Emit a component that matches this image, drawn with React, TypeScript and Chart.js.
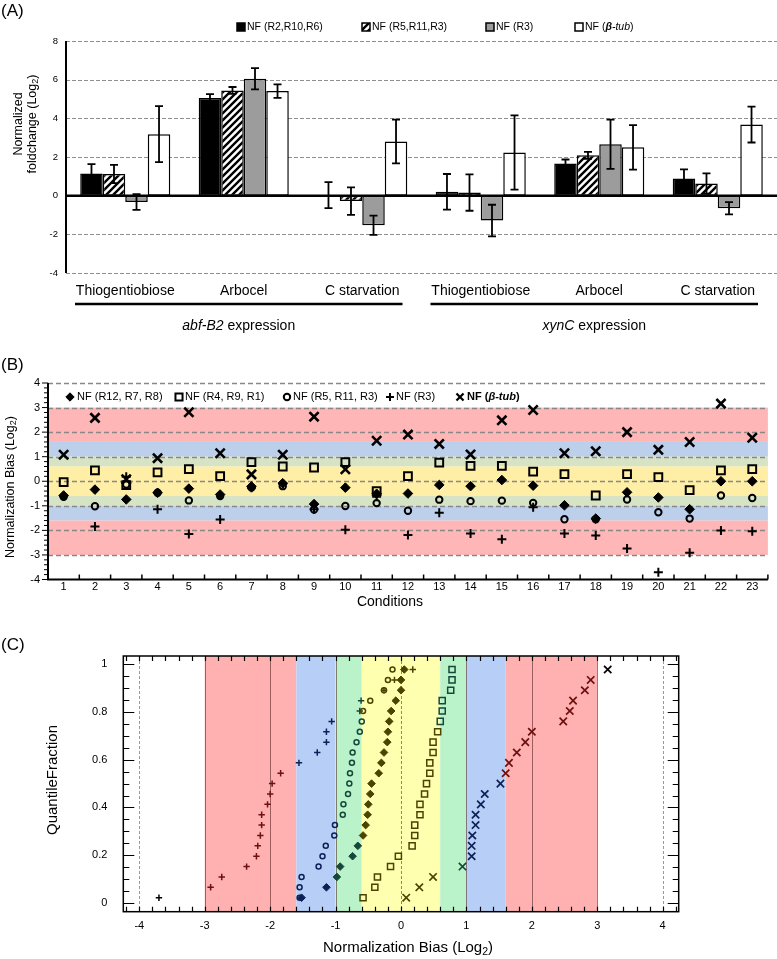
import React, { useEffect, useRef } from 'react';
import { Chart, registerables } from 'chart.js';

Chart.register(...registerables);

const FONT = '"Liberation Sans", Arial, Helvetica, sans-serif';
Chart.defaults.font.family = FONT;
Chart.defaults.color = '#000';

// ---------------- Panel A data ----------------
const categoriesA = ['Thiogentiobiose', 'Arbocel', 'C starvation', 'Thiogentiobiose', 'Arbocel', 'C starvation'];
const geneGroupsA = ['abf-B2', 'xynC'];
const seriesLabelsA = ['NF (R2,R10,R6)', 'NF (R5,R11,R3)', 'NF (R3)', 'NF (β-tub)'];
const foldR2R10R6 = [1.15, 5.05, 0.03, 0.2, 1.67, 0.89];
const errR2R10R6 = [0.48, 0.2, 0.67, 0.92, 0.2, 0.47];
const foldR5R11R3 = [1.12, 5.44, -0.28, 0.16, 2.09, 0.63];
const errR5R11R3 = [0.47, 0.18, 0.71, 0.94, 0.18, 0.52];
const foldR3 = [-0.33, 6.05, -1.53, -1.29, 2.66, -0.65];
const errR3 = [0.41, 0.55, 0.5, 0.82, 1.27, 0.32];
const foldBtub = [3.18, 5.41, 2.8, 2.23, 2.5, 3.68];
const errBtub = [1.45, 0.35, 1.13, 1.92, 1.15, 0.93];
const yTicksA = [-4, -2, 0, 2, 4, 6, 8];

// ---------------- Panel B data ----------------
const conditionsB = [1, 2, 3, 4, 5, 6, 7, 8, 9, 10, 11, 12, 13, 14, 15, 16, 17, 18, 19, 20, 21, 22, 23];
const biasR12R7R8 = [-0.58, -0.34, -0.74, -0.47, -0.3, -0.54, -0.21, -0.08, -0.93, -0.26, -0.51, -0.5, -0.15, -0.2, 0.05, -0.18, -0.98, -1.52, -0.45, -0.66, -1.14, 0.0, 0.0];
const biasR4R9R1 = [-0.04, 0.44, -0.16, 0.36, 0.49, 0.21, 0.78, 0.6, 0.56, 0.78, -0.4, 0.21, 0.76, 0.63, 0.63, 0.39, 0.29, -0.58, 0.29, 0.17, -0.36, 0.44, 0.49];
const biasR5R11R3 = [-0.63, -1.02, -0.13, -0.47, -0.78, -0.6, -0.26, -0.2, -1.15, -1.01, -0.89, -1.2, -0.75, -0.81, -0.79, -0.88, -1.55, -1.55, -0.74, -1.26, -1.52, -0.58, -0.68];
const biasR3 = [-0.61, -1.84, 0.18, -1.14, -2.15, -1.56, -0.26, -0.1, -1.14, -1.97, -0.63, -2.19, -1.28, -2.13, -2.36, -1.06, -2.13, -2.21, -2.74, -3.7, -2.91, -2.0, -2.04];
const biasBtub = [1.08, 2.58, 0.08, 0.94, 2.81, 1.14, 0.28, 1.08, 2.63, 0.49, 1.65, 1.9, 1.52, 1.09, 2.48, 2.9, 1.14, 1.22, 2.0, 1.28, 1.6, 3.16, 1.77];
const yTicksB = [-4, -3, -2, -1, 0, 1, 2, 3, 4];

// ---------------- Panel C ticks ----------------
const xTicksC = [-4, -3, -2, -1, 0, 1, 2, 3, 4];
const yTicksC = [0, 0.2, 0.4, 0.6, 0.8, 1];

// ---------------- helpers ----------------
type Part = [string, string, number?];

function drawRich(ctx: CanvasRenderingContext2D, parts: Part[], x: number, y: number, align = 'left', color = '#000') {
  ctx.save();
  ctx.fillStyle = color;
  ctx.textBaseline = 'middle';
  ctx.textAlign = 'left';
  let total = 0;
  const widths = parts.map(([t, f]) => {
    ctx.font = f;
    const w = ctx.measureText(t).width;
    total += w;
    return w;
  });
  let cx = align === 'center' ? x - total / 2 : align === 'right' ? x - total : x;
  parts.forEach(([t, f, dy], i) => {
    ctx.font = f;
    ctx.fillText(t, cx, y + (dy || 0));
    cx += widths[i];
  });
  ctx.restore();
}

function drawRotated(ctx: CanvasRenderingContext2D, parts: Part[], x: number, y: number) {
  ctx.save();
  ctx.translate(x, y);
  ctx.rotate(-Math.PI / 2);
  drawRich(ctx, parts, 0, 0, 'center');
  ctx.restore();
}

function sym(ctx: CanvasRenderingContext2D, kind: string, x: number, y: number, r: number, color: string, lw: number) {
  ctx.save();
  ctx.strokeStyle = color;
  ctx.fillStyle = color;
  ctx.lineWidth = lw;
  ctx.setLineDash([]);
  ctx.beginPath();
  if (kind === 'rectRot') {
    ctx.moveTo(x, y - r); ctx.lineTo(x + r, y); ctx.lineTo(x, y + r); ctx.lineTo(x - r, y); ctx.closePath();
    ctx.fill(); ctx.lineWidth = 1; ctx.stroke();
  } else if (kind === 'rect') {
    const s = r * Math.SQRT1_2;
    ctx.rect(x - s, y - s, 2 * s, 2 * s); ctx.stroke();
  } else if (kind === 'circle') {
    ctx.arc(x, y, r, 0, Math.PI * 2); ctx.stroke();
  } else if (kind === 'cross') {
    ctx.moveTo(x - r, y); ctx.lineTo(x + r, y); ctx.moveTo(x, y - r); ctx.lineTo(x, y + r); ctx.stroke();
  } else if (kind === 'crossRot') {
    const s = r * Math.SQRT1_2;
    ctx.moveTo(x - s, y - s); ctx.lineTo(x + s, y + s); ctx.moveTo(x - s, y + s); ctx.lineTo(x + s, y - s); ctx.stroke();
  }
  ctx.restore();
}

const f = (size: number, style = '') => `${style} ${size}px ${FONT}`.trim();

function makeHatch(ctx: CanvasRenderingContext2D) {
  const c = document.createElement('canvas');
  c.width = 7; c.height = 7;
  const g = c.getContext('2d')!;
  g.fillStyle = '#fff';
  g.fillRect(0, 0, 7, 7);
  g.strokeStyle = '#000';
  g.lineWidth = 2.4;
  g.beginPath();
  g.moveTo(-1, 8); g.lineTo(8, -1);
  g.moveTo(-4, 4); g.lineTo(4, -4);
  g.moveTo(3, 11); g.lineTo(11, 3);
  g.stroke();
  return ctx.createPattern(c, 'repeat')!;
}

// ---------------- Panel A ----------------
function buildA(canvas: HTMLCanvasElement) {
  const ctx = canvas.getContext('2d')!;
  const hatch = makeHatch(ctx);
  const values = [foldR2R10R6, foldR5R11R3, foldR3, foldBtub];
  const errors = [errR2R10R6, errR5R11R3, errR3, errBtub];
  const fills: any[] = ['#000', hatch, '#9c9c9c', '#fff'];

  const decor = {
    id: 'decorA',
    beforeDatasetsDraw(chart: any) {
      const { ctx, chartArea: ca, scales: { y } } = chart;
      ctx.save();
      ctx.strokeStyle = '#8f8f8f';
      ctx.lineWidth = 1.2;
      ctx.setLineDash([4, 2]);
      yTicksA.forEach((v) => {
        if (v === 0) return;
        const py = Math.round(y.getPixelForValue(v)) + 0.5;
        ctx.beginPath(); ctx.moveTo(ca.left, py); ctx.lineTo(ca.right, py); ctx.stroke();
      });
      ctx.restore();
    },
    afterDatasetsDraw(chart: any) {
      const { ctx, chartArea: ca, scales: { y } } = chart;
      ctx.save();
      ctx.strokeStyle = '#000';
      ctx.setLineDash([]);
      ctx.lineWidth = 2.5;
      const y0 = y.getPixelForValue(0);
      ctx.beginPath(); ctx.moveTo(ca.left, y0); ctx.lineTo(ca.right, y0); ctx.stroke();
      ctx.lineWidth = 2;
      ctx.beginPath(); ctx.moveTo(ca.left, ca.top); ctx.lineTo(ca.left, ca.bottom); ctx.stroke();
      ctx.lineWidth = 1.8;
      chart.data.datasets.forEach((ds: any, i: number) => {
        const meta = chart.getDatasetMeta(i);
        meta.data.forEach((el: any, j: number) => {
          const v = ds.data[j];
          const e = errors[i][j];
          const t = y.getPixelForValue(v + e);
          const b = y.getPixelForValue(v - e);
          const x = el.x;
          const cap = 4;
          ctx.beginPath();
          ctx.moveTo(x, t); ctx.lineTo(x, b);
          ctx.moveTo(x - cap, t); ctx.lineTo(x + cap, t);
          ctx.moveTo(x - cap, b); ctx.lineTo(x + cap, b);
          ctx.stroke();
        });
      });
      ctx.restore();
    },
    afterDraw(chart: any) {
      const { ctx, chartArea: ca, scales: { x } } = chart;
      drawRich(ctx, [['(A)', f(17)]], 1, 11);
      const legX = [237, 362, 486, 575];
      const ly = 27;
      legX.forEach((lx, i) => {
        ctx.save();
        ctx.fillStyle = fills[i];
        ctx.fillRect(lx, ly - 4, 8, 8);
        ctx.strokeStyle = '#000';
        ctx.lineWidth = 1.5;
        ctx.strokeRect(lx, ly - 4, 8, 8);
        ctx.restore();
        if (i === 3) {
          drawRich(ctx, [['NF (', f(10.5)], ['β', f(10.5, 'italic bold')], ['-tub', f(10.5, 'italic')], [')', f(10.5)]], lx + 10, ly);
        } else {
          drawRich(ctx, [[seriesLabelsA[i], f(10.5)]], lx + 10, ly);
        }
      });
      const w = x.getPixelForValue(1) - x.getPixelForValue(0);
      geneGroupsA.forEach((gname, g) => {
        const left = x.getPixelForValue(3 * g) - w / 2 + 9;
        const right = x.getPixelForValue(3 * g + 2) + w / 2 - 19;
        ctx.save();
        ctx.strokeStyle = '#000';
        ctx.lineWidth = 2.5;
        ctx.beginPath(); ctx.moveTo(left, ca.bottom + 31); ctx.lineTo(right, ca.bottom + 31); ctx.stroke();
        ctx.restore();
        drawRich(ctx, [[gname, f(14, 'italic')], [' expression', f(14)]], (left + right) / 2, ca.bottom + 53, 'center');
      });
      drawRotated(ctx, [['Normalized', f(12.5)]], 19, 124);
      drawRotated(ctx, [['foldchange (Log', f(12.5)], ['2', f(9), 3], [')', f(12.5)]], 33, 124);
    },
  };

  return new Chart(canvas, {
    type: 'bar',
    data: {
      labels: categoriesA,
      datasets: values.map((d, i) => ({
        label: seriesLabelsA[i],
        data: d,
        backgroundColor: fills[i],
        borderColor: '#000',
        borderWidth: 1.5,
        borderSkipped: false,
        categoryPercentage: 0.76,
        barPercentage: 1,
      })),
    },
    options: {
      responsive: false,
      animation: false,
      events: [],
      layout: { padding: { top: 41, left: 0, right: 0, bottom: 0 } },
      plugins: { legend: { display: false }, tooltip: { enabled: false } },
      scales: {
        x: {
          grid: { display: false, drawTicks: false },
          border: { display: false },
          ticks: { font: { size: 14 }, color: '#000', padding: 10, maxRotation: 0, autoSkip: false },
          afterFit: (s: any) => { s.height = 340 - 273; },
        },
        y: {
          min: -4,
          max: 8,
          afterBuildTicks: (s: any) => { s.ticks = yTicksA.map((v) => ({ value: v })); },
          grid: { display: false, drawTicks: false },
          border: { display: false },
          ticks: { font: { size: 9.5 }, color: '#000', padding: 8 },
          afterFit: (s: any) => { s.width = 66; },
        },
      },
    },
    plugins: [decor],
  } as any);
}

// ---------------- Panel B & C series styles ----------------
const seriesBC = [
  { label: 'NF (R5, R11, R3)', values: biasR5R11R3, style: 'circle', rB: 3.2, bwB: 2, rC: 2.5, bwC: 1.5, fill: false },
  { label: 'NF (R4, R9, R1)', values: biasR4R9R1, style: 'rect', rB: 5.5, bwB: 2, rC: 4.3, bwC: 1.5, fill: false },
  { label: 'NF (R12, R7, R8)', values: biasR12R7R8, style: 'rectRot', rB: 4.8, bwB: 1, rC: 3.8, bwC: 1, fill: true },
  { label: 'NF (R3)', values: biasR3, style: 'cross', rB: 4.5, bwB: 2, rC: 3.2, bwC: 1.5, fill: false },
  { label: 'NF (β-tub)', values: biasBtub, style: 'crossRot', rB: 6.5, bwB: 2.6, rC: 5.2, bwC: 1.7, fill: false },
];

// ---------------- Panel B ----------------
function buildB(canvas: HTMLCanvasElement) {
  const bands = [
    { from: 1.6, to: 3, color: '#ffb6b6' },
    { from: 1.0, to: 1.6, color: '#bccfeb' },
    { from: 0.6, to: 1.0, color: '#d6e3c4' },
    { from: -0.6, to: 0.6, color: '#ffeea5' },
    { from: -1.0, to: -0.6, color: '#d6e3c4' },
    { from: -1.6, to: -1.0, color: '#bccfeb' },
    { from: -3, to: -1.6, color: '#ffb6b6' },
  ];
  const decor = {
    id: 'decorB',
    beforeDatasetsDraw(chart: any) {
      const { ctx, chartArea: ca, scales: { x, y } } = chart;
      ctx.save();
      bands.forEach((b) => {
        const t = y.getPixelForValue(b.to);
        const bo = y.getPixelForValue(b.from);
        ctx.fillStyle = b.color;
        ctx.fillRect(ca.left, t, ca.right - ca.left, bo - t);
      });
      ctx.strokeStyle = '#888';
      ctx.lineWidth = 1.5;
      ctx.setLineDash([5, 3]);
      yTicksB.forEach((v) => {
        if (v === -4) return;
        const py = Math.round(y.getPixelForValue(v)) + 0.5;
        ctx.beginPath(); ctx.moveTo(ca.left, py); ctx.lineTo(ca.right, py); ctx.stroke();
      });
      ctx.setLineDash([]);
      ctx.strokeStyle = '#000';
      ctx.lineWidth = 2;
      ctx.beginPath();
      ctx.moveTo(ca.left, ca.top); ctx.lineTo(ca.left, ca.bottom); ctx.lineTo(ca.right, ca.bottom);
      ctx.stroke();
      ctx.lineWidth = 1;
      for (let k = -20; k <= 20; k++) {
        const py = y.getPixelForValue(k * 0.2);
        const len = k % 5 === 0 ? 6 : 4;
        ctx.beginPath(); ctx.moveTo(ca.left - len, py); ctx.lineTo(ca.left, py); ctx.stroke();
      }
      ctx.lineWidth = 1.5;
      for (let k = 0; k <= conditionsB.length; k++) {
        const px = x.getPixelForValue(k + 0.5);
        ctx.beginPath(); ctx.moveTo(px, ca.bottom); ctx.lineTo(px, ca.bottom - 5); ctx.stroke();
      }
      ctx.restore();
    },
    afterDraw(chart: any) {
      const { ctx } = chart;
      drawRich(ctx, [['(B)', f(17)]], 1, 25);
      const ly = 57;
      const order = [2, 1, 0, 3, 4];
      const pos = [[70, 77], [179, 185], [287, 293], [390, 396], [460, 467]];
      order.forEach((si, k) => {
        const s = seriesBC[si];
        const r = s.style === 'crossRot' ? 5 : s.style === 'rect' ? 5 : s.style === 'rectRot' ? 4.2 : s.style === 'cross' ? 4 : s.rB;
        sym(ctx, s.style, pos[k][0], ly, r, '#000', s.style === 'crossRot' ? 2.2 : s.bwB);
        if (si === 4) {
          drawRich(ctx, [['NF (', f(11, 'bold')], ['β-tub', f(11, 'italic bold')], [')', f(11, 'bold')]], pos[k][1], ly);
        } else {
          drawRich(ctx, [[s.label, f(11)]], pos[k][1], ly);
        }
      });
      drawRotated(ctx, [['Normalization Bias (Log', f(12.5)], ['2', f(9), 3], [')', f(12.5)]], 11, 147);
      drawRich(ctx, [['Conditions', f(14)]], 390, 262, 'center');
    },
  };

  return new Chart(canvas, {
    type: 'scatter',
    data: {
      datasets: seriesBC.map((s) => ({
        label: s.label,
        data: conditionsB.map((c, i) => ({ x: c, y: s.values[i] })),
        pointStyle: s.style,
        pointRadius: s.rB,
        pointBorderWidth: s.bwB,
        pointBorderColor: '#000',
        pointBackgroundColor: s.fill ? '#000' : 'rgba(0,0,0,0)',
      })),
    },
    options: {
      responsive: false,
      animation: false,
      events: [],
      layout: { padding: { top: 43, left: 0, right: 0, bottom: 0 } },
      plugins: { legend: { display: false }, tooltip: { enabled: false } },
      scales: {
        x: {
          type: 'linear',
          min: 0.5,
          max: 23.5,
          afterBuildTicks: (s: any) => { s.ticks = conditionsB.map((v) => ({ value: v })); },
          grid: { display: false, drawTicks: false },
          border: { display: false },
          ticks: { font: { size: 11 }, color: '#000', padding: 1, maxRotation: 0, autoSkip: false },
          afterFit: (s: any) => { s.height = 290 - 239.5; },
        },
        y: {
          min: -4,
          max: 4,
          afterBuildTicks: (s: any) => { s.ticks = yTicksB.map((v) => ({ value: v })); },
          grid: { display: false, drawTicks: false },
          border: { display: false },
          ticks: { font: { size: 11 }, color: '#000', padding: 8 },
          afterFit: (s: any) => { s.width = 48; },
        },
      },
    },
    plugins: [decor],
  } as any);
}

// ---------------- Panel C ----------------
function colorC(v: number) {
  const a = Math.abs(v);
  if (a >= 3) return '#000000';
  if (a >= 1.6) return '#6e1010';
  if (a >= 1.0) return '#0d2058';
  if (a >= 0.6) return '#15483a';
  return '#4b4300';
}

function buildC(canvas: HTMLCanvasElement) {
  const bands = [
    { from: -3, to: -1.6, color: '#ffb0b0' },
    { from: -1.6, to: -1.0, color: '#b7cff6' },
    { from: -1.0, to: -0.6, color: '#baf2c9' },
    { from: -0.6, to: 0.6, color: '#ffffb0' },
    { from: 0.6, to: 1.0, color: '#baf2c9' },
    { from: 1.0, to: 1.6, color: '#b7cff6' },
    { from: 1.6, to: 3, color: '#ffb0b0' },
  ];
  const decor = {
    id: 'decorC',
    beforeDatasetsDraw(chart: any) {
      const { ctx, chartArea: ca, scales: { x } } = chart;
      ctx.save();
      bands.forEach((b) => {
        const l = x.getPixelForValue(b.from);
        const r = x.getPixelForValue(b.to);
        ctx.fillStyle = b.color;
        ctx.fillRect(l, ca.top, r - l, ca.bottom - ca.top);
      });
      xTicksC.forEach((v) => {
        const px = Math.round(x.getPixelForValue(v)) + 0.5;
        ctx.strokeStyle = Math.abs(v) === 4 ? '#9a9a9a' : 'rgba(60,10,10,0.5)';
        ctx.setLineDash(Math.abs(v) === 4 || v === 0 ? [3, 2] : []);
        ctx.lineWidth = 1;
        ctx.beginPath(); ctx.moveTo(px, ca.top); ctx.lineTo(px, ca.bottom); ctx.stroke();
      });
      ctx.restore();
    },
    afterDatasetsDraw(chart: any) {
      const { ctx, chartArea: ca, scales: { x, y } } = chart;
      ctx.save();
      ctx.strokeStyle = '#000';
      ctx.setLineDash([]);
      ctx.lineWidth = 1.5;
      ctx.strokeRect(ca.left, ca.top, ca.right - ca.left, ca.bottom - ca.top);
      ctx.lineWidth = 1.2;
      for (let k = 0; k <= 20; k++) {
        const py = Math.round(y.getPixelForValue(k * 0.05)) + 0.5;
        const len = k % 4 === 0 ? 11 : 6;
        ctx.beginPath();
        ctx.moveTo(ca.left, py); ctx.lineTo(ca.left + len, py);
        ctx.moveTo(ca.right, py); ctx.lineTo(ca.right - len, py);
        ctx.stroke();
      }
      for (let k = -21; k <= 21; k++) {
        const px = Math.round(x.getPixelForValue(k * 0.2)) + 0.5;
        ctx.beginPath();
        ctx.moveTo(px, ca.top); ctx.lineTo(px, ca.top + 5);
        ctx.moveTo(px, ca.bottom); ctx.lineTo(px, ca.bottom - 5);
        ctx.stroke();
      }
      ctx.restore();
    },
    afterDraw(chart: any) {
      const { ctx } = chart;
      drawRich(ctx, [['(C)', f(17)]], 1, 15);
      drawRotated(ctx, [['QuantileFraction', f(15)]], 53, 150);
      drawRich(ctx, [['Normalization Bias (Log', f(15)], ['2', f(10.5), 4], [')', f(15)]], 408, 318, 'center');
    },
  };

  const quantiles = (vals: number[]) => {
    const sorted = [...vals].sort((a, b) => a - b);
    return sorted.map((v, i) => ({ x: v, y: (i + 0.5) / sorted.length }));
  };

  return new Chart(canvas, {
    type: 'scatter',
    data: {
      datasets: seriesBC.map((s) => ({
        label: s.label,
        data: quantiles(s.values),
        pointStyle: s.style,
        pointRadius: s.rC,
        pointBorderWidth: s.bwC,
        pointBorderColor: (c: any) => colorC(c.raw ? c.raw.x : 0),
        pointBackgroundColor: (c: any) => (s.fill ? colorC(c.raw ? c.raw.x : 0) : 'rgba(0,0,0,0)'),
      })),
    },
    options: {
      responsive: false,
      animation: false,
      events: [],
      layout: { padding: { top: 26, left: 0, right: 777 - 678.7, bottom: 0 } },
      plugins: { legend: { display: false }, tooltip: { enabled: false } },
      scales: {
        x: {
          type: 'linear',
          min: -4.245,
          max: 4.245,
          afterBuildTicks: (s: any) => { s.ticks = xTicksC.map((v) => ({ value: v })); },
          grid: { display: false, drawTicks: false },
          border: { display: false },
          ticks: { font: { size: 11 }, color: '#000', padding: 8 },
          afterFit: (s: any) => { s.height = 329 - 281.7; },
        },
        y: {
          min: -0.037,
          max: 1.035,
          afterBuildTicks: (s: any) => { s.ticks = yTicksC.map((v) => ({ value: v })); },
          grid: { display: false, drawTicks: false },
          border: { display: false },
          ticks: {
            font: { size: 11 },
            color: '#000',
            padding: 16,
            callback: (v: any) => String(Math.round(Number(v) * 100) / 100),
          },
          afterFit: (s: any) => { s.width = 123.3; },
        },
      },
    },
    plugins: [decor],
  } as any);
}

export default function App() {
  const refA = useRef<HTMLCanvasElement>(null);
  const refB = useRef<HTMLCanvasElement>(null);
  const refC = useRef<HTMLCanvasElement>(null);

  useEffect(() => {
    const charts = [buildA(refA.current!), buildB(refB.current!), buildC(refC.current!)];
    return () => charts.forEach((c) => c.destroy());
  }, []);

  return (
    <div style={{ position: 'absolute', left: 0, top: 0, width: 777, height: 959, background: '#fff', overflow: 'hidden' }}>
      <canvas ref={refA} width={777} height={340} style={{ position: 'absolute', left: 0, top: 0 }} />
      <canvas ref={refB} width={777} height={290} style={{ position: 'absolute', left: 0, top: 340 }} />
      <canvas ref={refC} width={777} height={329} style={{ position: 'absolute', left: 0, top: 630 }} />
    </div>
  );
}
